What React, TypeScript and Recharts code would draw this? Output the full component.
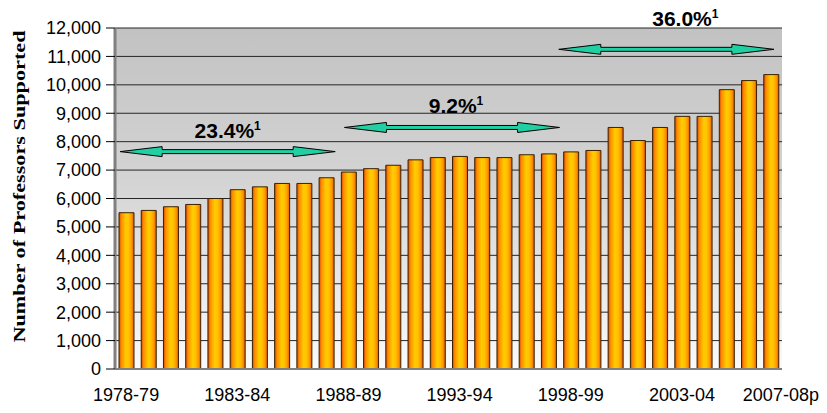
import { BarChart, Bar, XAxis, YAxis, CartesianGrid, ReferenceLine } from 'recharts'

// academic years on the category axis
const years = [
    '1978-79', '1979-80', '1980-81', '1981-82', '1982-83', '1983-84', '1984-85', '1985-86',
    '1986-87', '1987-88', '1988-89', '1989-90', '1990-91', '1991-92', '1992-93', '1993-94',
    '1994-95', '1995-96', '1996-97', '1997-98', '1998-99', '1999-00', '2000-01', '2001-02',
    '2002-03', '2003-04', '2004-05', '2005-06', '2006-07', '2007-08p'
]

// number of professors supported
const professors = [
    5500, 5580, 5710, 5790, 6000, 6310, 6410, 6530, 6530, 6730,
    6930, 7050, 7170, 7360, 7440, 7480, 7440, 7440, 7540, 7570,
    7640, 7690, 8500, 8040, 8500, 8890, 8890, 9830, 10150, 10360
]

const yearTicks = ['1978-79', '1983-84', '1988-89', '1993-94', '1998-99', '2003-04', '2007-08p']
const valueTicks = [0, 1000, 2000, 3000, 4000, 5000, 6000, 7000, 8000, 9000, 10000, 11000, 12000]

// growth periods shown with double arrows
const periodStart = ['1978-79', '1988-89', '1998-99']
const periodEnd = ['1987-88', '1997-98', '2007-08p']
const periodLevel = [7650, 8500, 11250]
const periodGrowth = ['23.4%', '9.2%', '36.0%']

// pixel tweaks for arrows and labels (not data)
const arrowPad = [
    { start: 6, end: 9, dx: 0, dy: -14 },
    { start: 4, end: 11, dx: 4, dy: -14 },
    { start: 12, end: 3, dx: 19, dy: -23 },
]

const data = years.map((year, i) => ({ year, professors: professors[i] }))

const FONT = 'Liberation Sans, Arial, sans-serif'

const Arrow = (props: any) => {
    const { x1, x2, y1, idx, text } = props
    const p = arrowPad[idx]
    const a = x1 - p.start
    const b = x2 + p.end
    const y = y1
    const hl = 42
    const pts = [
        [a, y], [a + hl, y - 5], [a + hl, y - 2], [b - hl, y - 2], [b - hl, y - 5],
        [b, y], [b - hl, y + 5], [b - hl, y + 2], [a + hl, y + 2], [a + hl, y + 5],
    ].map((q) => q.join(',')).join(' ')
    return (
        <g>
            <polygon points={pts} fill="#22cfa2" stroke="#000" strokeWidth={1} />
            <text
                x={(a + b) / 2 + p.dx}
                y={y + p.dy}
                textAnchor="middle"
                fontFamily={FONT}
                fontWeight="bold"
                fontSize={21}
                fill="#000"
            >
                {text}
                <tspan fontSize={12} dy={-8}>1</tspan>
            </text>
        </g>
    )
}

const YLabel = (props: any) => {
    const vb = props.viewBox
    const cx = 11
    const cy = vb.y + vb.height / 2 - 12
    // label is stretched along its length in the original
    return (
        <text
            x={0}
            y={0}
            transform={`translate(${cx}, ${cy}) rotate(-90) scale(1.27, 1)`}
            textAnchor="middle"
            dominantBaseline="central"
            fontFamily="Liberation Serif, Times New Roman, serif"
            fontWeight="bold"
            fontSize={17.5}
            fill="#000"
        >
            Number of Professors Supported
        </text>
    )
}

const YearTick = (props: any) => {
    const { x, y, payload } = props
    const shift = payload.value === '2007-08p' ? 10 : 0
    return (
        <text x={x + shift} y={y} dy="0.71em" textAnchor="middle" fontFamily={FONT} fontSize={18} fill="#000">
            {payload.value}
        </text>
    )
}

const App = () => {
    return (
        <div style={{ width: 819, height: 405 }}>
            <svg width={0} height={0} style={{ position: 'absolute' }}>
                <defs>
                    <linearGradient id="plotBg" x1="0" y1="0" x2="0" y2="1">
                        <stop offset="0%" stopColor="#c2c2c2" />
                        <stop offset="45%" stopColor="#d4d4d4" />
                        <stop offset="100%" stopColor="#fafafa" />
                    </linearGradient>
                    <linearGradient id="barFill" x1="0" y1="0" x2="1" y2="0">
                        <stop offset="0%" stopColor="#d04800" />
                        <stop offset="15%" stopColor="#ff8a00" />
                        <stop offset="45%" stopColor="#ffcc00" />
                        <stop offset="65%" stopColor="#ffc200" />
                        <stop offset="85%" stopColor="#ff9400" />
                        <stop offset="100%" stopColor="#d85800" />
                    </linearGradient>
                </defs>
            </svg>
            <BarChart
                width={819}
                height={405}
                data={data}
                margin={{ top: 20, right: 45, bottom: 14, left: 0 }}
            >
                <CartesianGrid vertical={false} stroke="#262626" fill="url(#plotBg)" fillOpacity={1} />
                <XAxis
                    dataKey="year"
                    ticks={yearTicks}
                    interval={0}
                    tickLine={false}
                    tickSize={6}
                    tickMargin={13}
                    height={30}
                    axisLine={{ stroke: '#808080', strokeWidth: 2 }}
                    tick={<YearTick />}
                />
                <YAxis
                    width={107}
                    domain={[0, 12000]}
                    ticks={valueTicks}
                    interval={0}
                    tickSize={9}
                    tickMargin={5}
                    tickLine={{ stroke: '#000' }}
                    axisLine={{ stroke: '#808080', strokeWidth: 3 }}
                    tickFormatter={(v: number) => v.toLocaleString('en-US')}
                    tick={{ fill: '#000', fontSize: 18, fontFamily: FONT }}
                    label={<YLabel />}
                />
                <Bar
                    dataKey="professors"
                    fill="url(#barFill)"
                    stroke="#3a2200"
                    strokeWidth={1}
                    barSize={15}
                    isAnimationActive={false}
                />
                {periodStart.map((s, i) => (
                    <ReferenceLine
                        key={s}
                        segment={[{ x: s, y: periodLevel[i] }, { x: periodEnd[i], y: periodLevel[i] }]}
                        shape={(p: any) => <Arrow {...p} idx={i} text={periodGrowth[i]} />}
                    />
                ))}
            </BarChart>
        </div>
    )
}

export default App
